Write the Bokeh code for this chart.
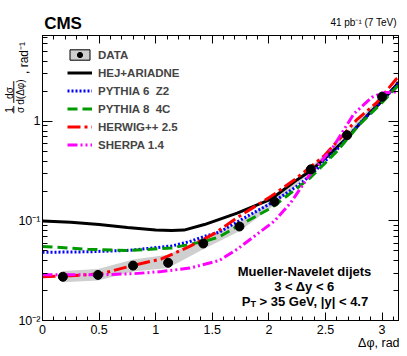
import json, math
from bokeh.plotting import figure
from bokeh.models import (Range1d, LinearAxis, LogAxis, Label, Legend, LegendItem,
                          CustomJSTickFormatter, FixedTicker, SingleIntervalTicker)
from bokeh.embed import file_html
from bokeh.resources import INLINE

# ---------------- data ----------------
data_dphi = [0.18, 0.49, 0.80, 1.11, 1.42, 1.74, 2.05, 2.37, 2.69, 3.00]
data_val = [0.0275, 0.0287, 0.0356, 0.0380, 0.0594, 0.088, 0.156, 0.33, 0.727, 1.77]
data_lo = [0.0242, 0.0252, 0.0310, 0.0336, 0.0520, 0.079, 0.145, 0.31, 0.69, 1.68]
data_hi = [0.0315, 0.0330, 0.0410, 0.0458, 0.0680, 0.097, 0.168, 0.35, 0.765, 1.86]

hej_x = [0.0, 0.25, 0.5, 0.75, 1.0, 1.14, 1.25, 1.43, 1.72, 2.02, 2.25, 2.37, 2.5, 2.69, 2.9, 3.0, 3.13, 3.1416]
hej_y = [0.100, 0.097, 0.092, 0.086, 0.081, 0.080, 0.081, 0.092, 0.12, 0.166, 0.26, 0.32, 0.43, 0.68, 1.25, 1.6, 2.35, 2.5]

py6_x = [0.0, 0.4, 0.77, 1.14, 1.3, 1.43, 1.56, 1.72, 2.02, 2.27, 2.37, 2.6, 2.8, 3.0, 3.1416]
py6_y = [0.0484, 0.049, 0.0507, 0.056, 0.062, 0.070, 0.077, 0.098, 0.151, 0.232, 0.29, 0.52, 0.95, 1.6, 2.4]

py8_x = [0.0, 0.4, 0.77, 1.14, 1.43, 1.56, 1.72, 2.02, 2.27, 2.37, 2.6, 2.8, 3.0, 3.1416]
py8_y = [0.0555, 0.052, 0.0505, 0.0535, 0.0624, 0.069, 0.088, 0.135, 0.223, 0.275, 0.50, 0.93, 1.55, 2.3]

hw_x = [0.0, 0.25, 0.52, 0.8, 1.05, 1.3, 1.43, 1.52, 1.72, 2.02, 2.22, 2.31, 2.485, 2.78, 2.955, 3.125, 3.1416]
hw_y = [0.0275, 0.0282, 0.0295, 0.0358, 0.0415, 0.0555, 0.066, 0.075, 0.108, 0.177, 0.256, 0.31, 0.447, 1.05, 1.55, 2.67, 2.75]

sh_x = [0.0, 0.52, 0.8, 1.05, 1.3, 1.56, 1.72, 2.05, 2.19, 2.35, 2.57, 2.75, 2.91, 3.0, 3.08, 3.1416]
sh_y = [0.0288, 0.0288, 0.0295, 0.031, 0.0336, 0.040, 0.052, 0.10, 0.151, 0.28, 0.56, 1.19, 1.75, 1.93, 1.97, 1.97]

y_major = [0.01, 0.1, 1.0]
y_labels = {0.01: "10\u207b\u00b2", 0.1: "10\u207b\u00b9", 1.0: "1"}

series = [
    ("HEJ+ARIADNE", hej_x, hej_y, "black", "solid"),
    ("PYTHIA 6  Z2", py6_x, py6_y, "#0000ff", "2 2"),
    ("PYTHIA 8  4C", py8_x, py8_y, "#009900", "10 5"),
    ("HERWIG++ 2.5", hw_x, hw_y, "#ff0000", "13 4 3 4"),
    ("SHERPA 1.4", sh_x, sh_y, "#ff00ff", "10 3 2 3 2 3"),
]

FONT = "Liberation Sans"
W, H = 407, 356
X0, X1 = 0.0, 3.145
Y0, Y1 = 0.01, 7.3
FL, FR, FT, FB = 41, 398, 35, 320   # frame edges in canvas pixels


def x_at(px):
    return X0 + (px - FL) / (FR - FL) * (X1 - X0)


def y_at(py):
    f = (FB - py) / (FB - FT)
    return 10 ** (math.log10(Y0) + f * (math.log10(Y1) - math.log10(Y0)))


p = figure(width=W, height=H, x_range=Range1d(X0, X1), y_range=Range1d(Y0, Y1),
           y_axis_type="log", output_backend="svg", toolbar_location=None,
           min_border_left=FL, min_border_right=W - FR, min_border_top=FT,
           min_border_bottom=H - FB,
           background_fill_color="white", border_fill_color="white")
p.grid.visible = False
p.outline_line_color = "black"

minor_y = [m * d for d in (0.01, 0.1, 1.0) for m in range(2, 10) if m * d < Y1]
yticker = FixedTicker(ticks=y_major, minor_ticks=minor_y)
xticker = SingleIntervalTicker(interval=0.5, num_minor_ticks=5)

xa = p.xaxis[0]
xa.ticker = xticker
ya = p.yaxis[0]
ya.ticker = yticker
ya.major_label_overrides = y_labels

for ax in (xa, ya):
    ax.major_tick_out = 0
    ax.minor_tick_out = 0
    ax.axis_line_color = "black"
    ax.major_tick_line_color = "black"
    ax.minor_tick_line_color = "black"
    ax.major_label_text_font = FONT
    ax.major_label_text_font_size = "12.5px"
    ax.major_label_text_color = "black"
xa.major_label_standoff = 4
ya.major_label_standoff = 2
xa.major_tick_in = 8
xa.minor_tick_in = 4
ya.major_tick_in = 10
ya.minor_tick_in = 5

blank = CustomJSTickFormatter(code="return ''")
top = LinearAxis(ticker=xticker, formatter=blank, major_tick_in=8, minor_tick_in=4,
                 major_tick_out=0, minor_tick_out=0, major_label_standoff=0,
                 major_label_text_font_size="0px", axis_line_color="black")
right = LogAxis(ticker=yticker, formatter=blank, major_tick_in=10, minor_tick_in=5,
                major_tick_out=0, minor_tick_out=0, major_label_standoff=0,
                major_label_text_font_size="0px", axis_line_color="black")
p.add_layout(top, "above")
p.add_layout(right, "right")


def text_axis(side, ticks, texts, size, standoff, style="normal", font=FONT,
              orient="horizontal"):
    cls = LogAxis if side in ("left", "right") else LinearAxis
    ax = cls(ticker=FixedTicker(ticks=ticks),
             formatter=CustomJSTickFormatter(code="return %s[index];" % json.dumps(texts)),
             major_tick_in=0, major_tick_out=0, minor_tick_in=0, minor_tick_out=0,
             axis_line_color=None, major_label_standoff=standoff,
             major_label_text_font=font, major_label_text_font_size=size,
             major_label_text_font_style=style, major_label_text_color="black",
             major_label_orientation=orient)
    p.add_layout(ax, side)
    return ax


# texts outside the frame, carried by tick-less helper axes
text_axis("above", [x_at(363)], ["41 pb\u207b\u00b9 (7 TeV)"], "10px", 8)
text_axis("above", [x_at(61.6)], ["CMS"], "17px", -19, style="bold")
text_axis("below", [x_at(378.3)], ["\u0394\u03c6, rad"], "12.5px", -1)

# y-axis title 1/sigma dsigma/d(dphi), rad^-1 built as stacked pieces
text_axis("left", [y_at(57.5)], [", rad\u207b\u00b9"], "12px", -15, orient="parallel")
text_axis("left", [y_at(109.5), y_at(91.5)], ["\u03c3", "d(\u0394\u03c6)"], "10px", -12,
          orient="parallel")
text_axis("left", [y_at(109), y_at(91.5)], ["\u2500", "\u2500\u2500\u2500"], "12px", -9,
          font="DejaVu Sans", orient="parallel")
text_axis("left", [y_at(109.5), y_at(92.5)], ["1", "d\u03c3"], "10px", -11, orient="parallel")

# data band
p.varea(x=data_dphi, y1=data_lo, y2=data_hi, fill_color="#cfcfcf", fill_alpha=1.0)

renderers = {}
for name, xs, ys, col, dash in series:
    renderers[name] = p.line(xs, ys, line_color=col, line_width=3, line_dash=dash)

r_box = p.rect(x=data_dphi, y=data_val, width=1, height=1, width_units="screen",
               height_units="screen", fill_color="#cfcfcf", line_color="black", line_width=1)
r_pts = p.scatter(x=data_dphi, y=data_val, size=9, marker="circle",
                  fill_color="black", line_color="black")

items = [LegendItem(label="DATA", renderers=[r_box, r_pts])]
for name, *_ in series:
    items.append(LegendItem(label=name, renderers=[renderers[name]]))
legend = Legend(items=items, location=(25, 169), margin=0, padding=0, spacing=5,
                glyph_width=25, glyph_height=13, label_height=13, label_standoff=6,
                label_text_font=FONT, label_text_font_style="bold",
                label_text_font_size="11.5px", background_fill_alpha=0,
                border_line_alpha=0)
p.add_layout(legend)


def lab(text, x, y, size, style="normal", align="left", base="alphabetic"):
    p.add_layout(Label(x=x, y=y, x_units="screen", y_units="screen", text=text,
                       text_font=FONT, text_font_size=size, text_font_style=style,
                       text_align=align, text_baseline=base, text_color="black"))


lab("Mueller-Navelet dijets", 262, 49.3, "13px", "bold", align="center")
lab("3 < \u0394y < 6", 262, 34.5, "13px", "bold", align="center")
lab("P", 199.3, 19.5, "13px", "bold")
lab("T", 208.0, 16.3, "9px", "bold")
lab("> 35 GeV, |y| < 4.7", 217.0, 19.5, "13px", "bold")

open("out.html", "w").write(file_html(p, INLINE))
